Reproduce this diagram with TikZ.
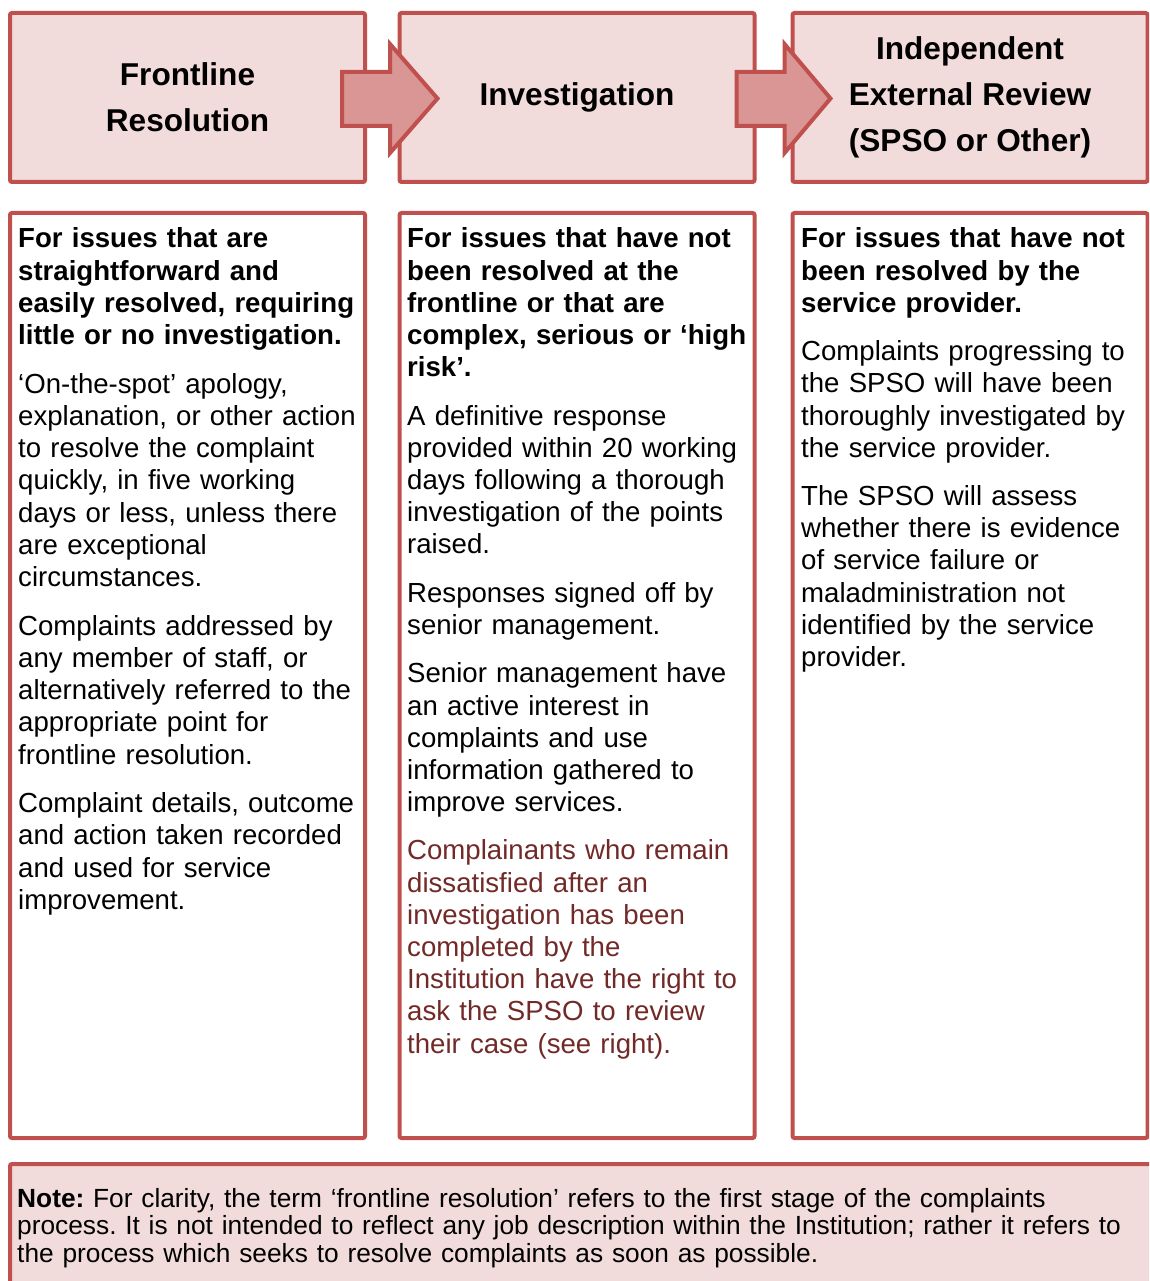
\documentclass[tikz,border=0pt]{standalone}
\usepackage{fontspec}
\setmainfont{Liberation Sans}
\usetikzlibrary{calc, positioning}

\definecolor{boxred}{HTML}{C0504D}
\definecolor{boxpink}{HTML}{F2DCDB}
\definecolor{arrowpink}{HTML}{D99694}
\definecolor{txtred}{HTML}{722A28}

\newcommand{\headfont}{\fontsize{31.6}{46}\selectfont\bfseries}
\newcommand{\bodyfont}{\fontsize{27.6}{32.2}\selectfont\frenchspacing}
\newcommand{\notefont}{\fontsize{26.3}{27.5}\selectfont\frenchspacing}

\begin{document}
\begin{tikzpicture}[x=1pt, y=-1pt,
	stagebox/.style={draw=boxred, fill=boxpink, line width=4pt, rounded corners=2pt,
		minimum width=355pt, minimum height=169pt, inner sep=0pt, align=center, font=\headfont},
	colbox/.style={draw=boxred, fill=white, line width=4pt, rounded corners=2pt,
		minimum width=355pt, minimum height=925pt, inner sep=0pt},
	coltext/.style={anchor=north west, inner sep=0pt, text width=350pt, align=left, font=\bodyfont},
	stagearrow/.style={draw=boxred, fill=arrowpink, line width=4pt, line join=miter}]
	\useasboundingbox (0,0) rectangle (1149,1281);
	\clip (0,0) rectangle (1149,1281);
	% stage headings
	\node[stagebox] (front) at (187.5, 97.5) {Frontline\\Resolution};
	\node[stagebox] (invest) at (577, 97.5) {Investigation};
	\node[stagebox] (review) at (970, 97.5) {Independent\\External Review\\(SPSO or Other)};
	\foreach \a/\b/\s in {front/invest/-25, invest/review/-20}
		\draw[stagearrow] ($(\a.east)+(\s,-25.5)$) -- ++(48,0) -- ++(0,-28)
			-- ($(\b.west)+(40,1)$) -- ($(\a.east)+(\s+48,55.5)$) -- ++(0,-27) -- ++(-48,0) -- cycle;
	% columns
	\node[colbox] (frontcol) at (187.5, 675.5) {};
	\node[colbox] (investcol) at (577, 675.5) {};
	\node[colbox] (reviewcol) at (970, 675.5) {};
	\node[coltext] (fronttxt) at (18, 227.8) {%
		{\bfseries For issues that are\\ straightforward and\\ easily resolved, requiring\\ little or no investigation.}\\[16.5pt]
		‘On-the-spot’ apology,\\ explanation, or other action\\ to resolve the complaint\\ quickly, in five working\\ days or less, unless there\\ are exceptional\\ circumstances.\\[16.5pt]
		Complaints addressed by\\ any member of staff, or\\ alternatively referred to the\\ appropriate point for\\ frontline resolution.\\[16.5pt]
		Complaint details, outcome\\ and action taken recorded\\ and used for service\\ improvement.};
	\node[coltext] (investtxt) at (407, 227.8) {%
		{\bfseries For issues that have not\\ been resolved at the\\ frontline or that are\\ complex, serious or ‘high\\ risk’.}\\[16pt]
		A definitive response\\ provided within 20 working\\ days following a thorough\\ investigation of the points\\ raised.\\[16pt]
		Responses signed off by\\ senior management.\\[16.5pt]
		Senior management have\\ an active interest in\\ complaints and use\\ information gathered to\\ improve services.\\[16pt]
		{\color{txtred}Complainants who remain\\ dissatisfied after an\\ investigation has been\\ completed by the\\ Institution have the right to\\ ask the SPSO to review\\ their case (see right).}};
	\node[coltext] (reviewtxt) at (801, 227.8) {%
		{\bfseries For issues that have not\\ been resolved by the\\ service provider.}\\[16pt]
		Complaints progressing to\\ the SPSO will have been\\ thoroughly investigated by\\ the service provider.\\[16pt]
		The SPSO will assess\\ whether there is evidence\\ of service failure or\\ maladministration not\\ identified by the service\\ provider.};
	% note
	\node[draw=boxred, fill=boxpink, line width=4pt, rounded corners=2pt,
		minimum width=1200pt, minimum height=160pt, inner sep=0pt] (notebox) at (610, 1244) {};
	\node[anchor=north west, inner sep=0pt, text width=1130pt, align=left, font=\notefont] (notetxt) at (17, 1188) {%
		\textbf{Note:} For clarity, the term ‘frontline resolution’ refers to the first stage of the complaints\\
		process. It is not intended to reflect any job description within the Institution; rather it refers to\\
		the process which seeks to resolve complaints as soon as possible.};
\end{tikzpicture}
\end{document}
